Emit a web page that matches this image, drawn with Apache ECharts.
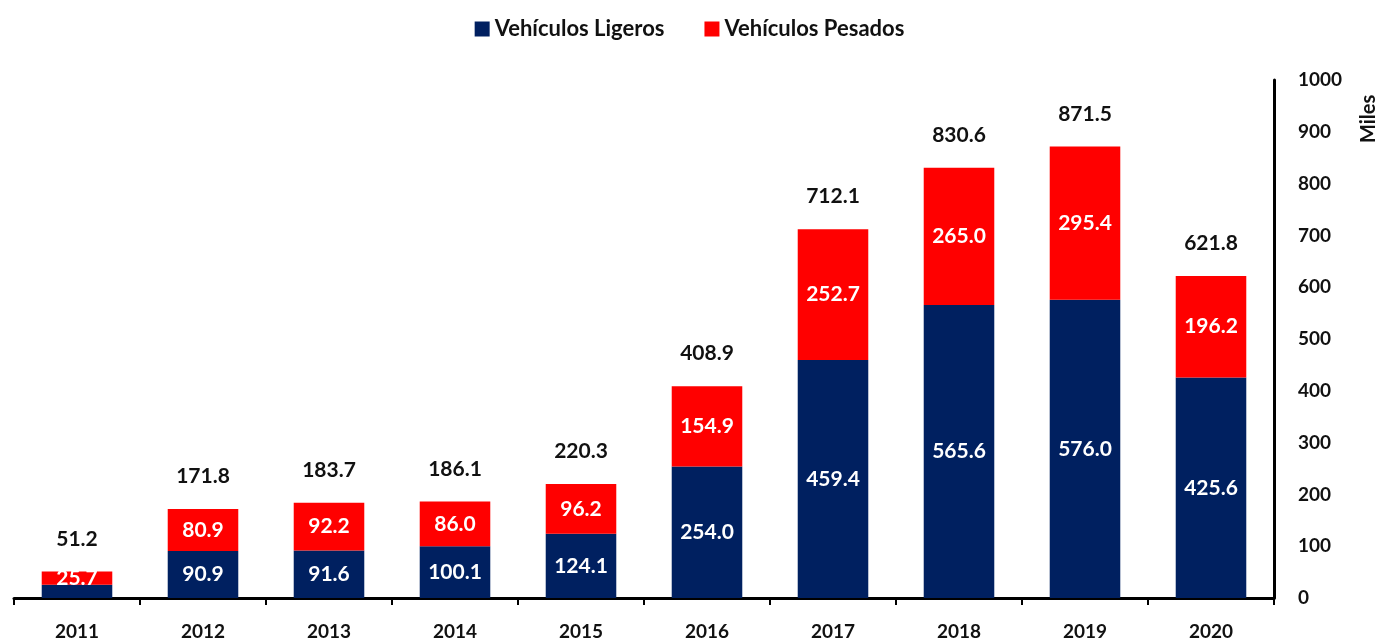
<!DOCTYPE html>
<html>
<head>
<meta charset="utf-8">
<title>Vehículos</title>
<script src="https://cdn.jsdelivr.net/npm/echarts@6/dist/echarts.min.js"></script>
<style>
  html, body { margin: 0; padding: 0; background: #fff; }
  #chart { width: 1379px; height: 641px; }
</style>
</head>
<body>
<div id="chart"></div>
<script>
// datos
const years = ['2011', '2012', '2013', '2014', '2015', '2016', '2017', '2018', '2019', '2020']
const ligeros = [25.5, 90.9, 91.6, 100.1, 124.1, 254.0, 459.4, 565.6, 576.0, 425.6]
const pesados = [25.7, 80.9, 92.2, 86.0, 96.2, 154.9, 252.7, 265.0, 295.4, 196.2]
const totales = [51.2, 171.8, 183.7, 186.1, 220.3, 408.9, 712.1, 830.6, 871.5, 621.8]
const yTicks = [0, 100, 200, 300, 400, 500, 600, 700, 800, 900, 1000]

const FONT = 'Lato'
const chart = echarts.init(document.getElementById('chart'))

const valueLabel = {
  show: true,
  position: 'inside',
  color: '#fff',
  fontFamily: FONT,
  fontSize: 21,
  fontWeight: 'bold',
  formatter: p => Number(p.value).toFixed(1)
}

const option = {
  animation: false,
  textStyle: { fontFamily: FONT },
  legend: {
    top: 13,
    left: 'center',
    itemWidth: 15,
    itemHeight: 15,
    itemGap: 40,
    icon: 'rect',
    textStyle: { fontFamily: FONT, fontSize: 22, fontWeight: 'bold', color: '#111' },
    data: ['Vehículos Ligeros', 'Vehículos Pesados']
  },
  grid: { left: 14, right: 105, top: 80, bottom: 41, containLabel: false },
  xAxis: {
    type: 'category',
    data: years,
    axisLine: { lineStyle: { color: '#000', width: 3 } },
    axisTick: { show: true, length: 7, lineStyle: { color: '#000', width: 2 } },
    axisLabel: { margin: 24, fontFamily: FONT, fontSize: 19, fontWeight: 'bold', color: '#111' }
  },
  yAxis: {
    type: 'value',
    position: 'right',
    min: yTicks[0],
    max: yTicks[yTicks.length - 1],
    interval: 100,
    splitLine: { show: false },
    axisLine: { show: true, lineStyle: { color: '#000', width: 3 } },
    axisTick: { show: false },
    axisLabel: {
      margin: 24,
      fontFamily: FONT,
      fontSize: 19,
      fontWeight: 'bold',
      color: '#111',
      formatter: v => String(v)
    }
  },
  graphic: [
    {
      type: 'text',
      x: 1359,
      y: 143,
      rotation: Math.PI / 2,
      style: { text: 'Miles', fontFamily: FONT, fontSize: 20, fontWeight: 'bold', fill: '#111' }
    }
  ],
  series: [
    {
      name: 'Vehículos Ligeros',
      type: 'bar',
      stack: 'total',
      barWidth: '56%',
      itemStyle: { color: '#002060' },
      label: valueLabel,
      // 2011 no muestra etiqueta en el tramo de ligeros
      data: ligeros.map((v, i) => i === 0 ? { value: v, label: { show: false } } : v)
    },
    {
      name: 'Vehículos Pesados',
      type: 'bar',
      stack: 'total',
      barWidth: '56%',
      itemStyle: { color: '#ff0000' },
      label: valueLabel,
      data: pesados
    },
    {
      // barra transparente solo para la etiqueta del total
      name: 'Total',
      type: 'bar',
      barWidth: '56%',
      barGap: '-100%',
      z: 1,
      silent: true,
      itemStyle: { color: 'rgba(0,0,0,0)' },
      label: {
        show: true,
        position: 'top',
        distance: 22,
        color: '#111',
        fontFamily: FONT,
        fontSize: 21,
        fontWeight: 'bold',
        formatter: p => Number(p.value).toFixed(1)
      },
      data: totales
    }
  ]
}

chart.setOption(option)
</script>
</body>
</html>
